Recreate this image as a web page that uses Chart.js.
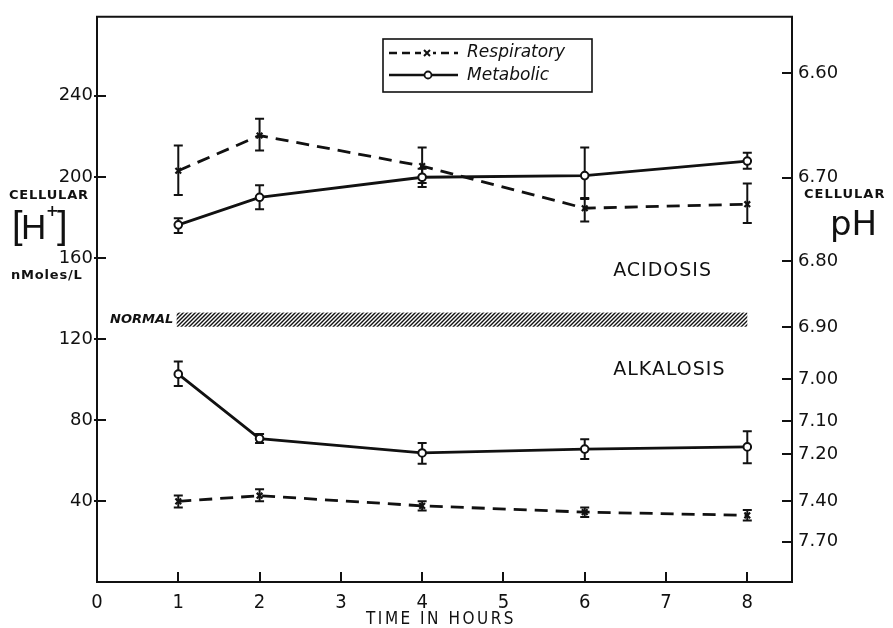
<!DOCTYPE html>
<html>
<head>
<meta charset="utf-8">
<script src="https://cdn.jsdelivr.net/npm/chart.js@4"></script>
<style>
  html, body { margin: 0; padding: 0; background: #fff; }
  #wrap { width: 893px; height: 628px; }
</style>
</head>
<body>
<div id="wrap"><canvas id="chart" width="893" height="628"></canvas></div>
<script>
// time points and axis ticks
const hours = [1, 2, 4, 6, 8];
const xTicks = [0, 1, 2, 3, 4, 5, 6, 7, 8];
const hTicks = [40, 80, 120, 160, 200, 240];
const phTicks = [6.60, 6.70, 6.80, 6.90, 7.00, 7.10, 7.20, 7.40, 7.70];

// cellular [H+] in nMoles/L, with error bar ends
const respAcid   = [203, 220.4, 205.3, 184.5, 186.5];
const respAcidLo = [191, 213, 197, 178, 177.2];
const respAcidHi = [215.5, 228.7, 214.5, 189, 196.7];

const metAcid   = [176.3, 189.9, 199.8, 200.6, 207.8];
const metAcidLo = [172.3, 184, 195, 189.5, 204];
const metAcidHi = [179.6, 195.8, 204, 214.5, 211.9];

const metAlk   = [102.6, 70.8, 63.7, 65.6, 66.7];
const metAlkLo = [96.7, 68.6, 58.4, 60.7, 58.6];
const metAlkHi = [108.8, 73, 68.6, 70.5, 74.4];

const respAlk   = [39.8, 42.6, 37.6, 34.5, 32.9];
const respAlkLo = [36.8, 39.8, 35.3, 32.1, 30.3];
const respAlkHi = [42.7, 45.8, 39.8, 36.8, 35.5];

// normal band
const normalH = [126, 133];
const normalHours = [0.98, 8];

const ink = '#111';
const tickFont = { family: 'DejaVu Sans', size: 18 };

function pts(ys) {
    return hours.map((h, i) => ({ x: h, y: ys[i] }));
}

function respSet(label, ys, lo, hi) {
    return {
        label: label, data: pts(ys), errLo: lo, errHi: hi,
        borderColor: ink, borderWidth: 2.8, borderDash: [13, 8],
        pointStyle: 'crossRot', pointRadius: 4, pointBorderWidth: 2.2,
        pointBorderColor: ink, pointBackgroundColor: ink, tension: 0
    };
}

function metSet(label, ys, lo, hi) {
    return {
        label: label, data: pts(ys), errLo: lo, errHi: hi,
        borderColor: ink, borderWidth: 2.8,
        pointStyle: 'circle', pointRadius: 3.8, pointBorderWidth: 2,
        pointBorderColor: ink, pointBackgroundColor: '#fff', tension: 0
    };
}

function makeHatch(ctx) {
    const c = document.createElement('canvas');
    c.width = 4; c.height = 4;
    const g = c.getContext('2d');
    g.strokeStyle = ink;
    g.lineWidth = 1.4;
    g.beginPath();
    g.moveTo(-1, 5); g.lineTo(5, -1);
    g.moveTo(-1, 1); g.lineTo(1, -1);
    g.moveTo(3, 5); g.lineTo(5, 3);
    g.stroke();
    return ctx.createPattern(c, 'repeat');
}

// hatched normal band + error bars, under the lines
const underlay = {
    id: 'underlay',
    beforeDatasetsDraw(chart) {
        const { ctx, scales: { x, y } } = chart;
        ctx.save();
        const x0 = x.getPixelForValue(normalHours[0]);
        const x1 = x.getPixelForValue(normalHours[1]);
        const y0 = y.getPixelForValue(normalH[1]);
        const y1 = y.getPixelForValue(normalH[0]);
        ctx.fillStyle = makeHatch(ctx);
        ctx.fillRect(x0, y0, x1 - x0, y1 - y0);

        ctx.strokeStyle = ink;
        ctx.lineWidth = 2;
        chart.data.datasets.forEach(ds => {
            hours.forEach((h, i) => {
                const px = x.getPixelForValue(h);
                const pLo = y.getPixelForValue(ds.errLo[i]);
                const pHi = y.getPixelForValue(ds.errHi[i]);
                ctx.beginPath();
                ctx.moveTo(px, pLo); ctx.lineTo(px, pHi);
                ctx.moveTo(px - 4.5, pLo); ctx.lineTo(px + 4.5, pLo);
                ctx.moveTo(px - 4.5, pHi); ctx.lineTo(px + 4.5, pHi);
                ctx.stroke();
            });
        });
        ctx.restore();
    }
};

// frame, inward ticks, legend and labels
const overlay = {
    id: 'overlay',
    afterDraw(chart) {
        const { ctx, chartArea: a, scales: { x, y, y2 } } = chart;
        ctx.save();
        ctx.strokeStyle = ink;
        ctx.lineWidth = 2;
        ctx.beginPath();
        ctx.moveTo(a.left - 1, a.top); ctx.lineTo(a.right + 1, a.top);
        ctx.stroke();

        ctx.beginPath();
        y.ticks.forEach(t => {
            const p = Math.round(y.getPixelForValue(t.value));
            ctx.moveTo(a.left - 3, p); ctx.lineTo(a.left + 9, p);
        });
        y2.ticks.forEach(t => {
            const p = Math.round(y2.getPixelForValue(t.value));
            ctx.moveTo(a.right - 10, p); ctx.lineTo(a.right, p);
        });
        x.ticks.forEach(t => {
            if (t.value === 0) return;
            const p = Math.round(x.getPixelForValue(t.value));
            ctx.moveTo(p, a.bottom); ctx.lineTo(p, a.bottom - 10);
        });
        ctx.stroke();

        // legend
        ctx.lineWidth = 1.6;
        ctx.strokeRect(383, 39, 209, 53);
        ctx.lineWidth = 2.4;
        ctx.setLineDash([8, 5]);
        ctx.beginPath(); ctx.moveTo(389, 53); ctx.lineTo(458, 53); ctx.stroke();
        ctx.setLineDash([]);
        ctx.beginPath(); ctx.moveTo(389, 75); ctx.lineTo(458, 75); ctx.stroke();
        ctx.fillStyle = '#fff';
        ctx.fillRect(421, 48, 12, 10);
        ctx.lineWidth = 2;
        ctx.beginPath();
        ctx.moveTo(424, 50); ctx.lineTo(430, 56);
        ctx.moveTo(430, 50); ctx.lineTo(424, 56);
        ctx.stroke();
        ctx.beginPath(); ctx.arc(428, 75, 3.5, 0, Math.PI * 2);
        ctx.fill(); ctx.lineWidth = 1.8; ctx.stroke();

        ctx.fillStyle = ink;
        ctx.textBaseline = 'middle';
        ctx.textAlign = 'left';
        ctx.font = 'oblique 17px "DejaVu Sans"';
        ctx.fillText('Respiratory', 467, 53);
        ctx.fillText('Metabolic', 467, 76);

        // region labels
        ctx.font = '19px "DejaVu Sans"';
        ctx.letterSpacing = '1px';
        ctx.fillText('ACIDOSIS', x.getPixelForValue(6.35), y.getPixelForValue(153.6));
        ctx.fillText('ALKALOSIS', x.getPixelForValue(6.35), y.getPixelForValue(104.5));
        ctx.letterSpacing = '0px';
        ctx.font = 'bold oblique 13px "DejaVu Sans"';
        ctx.fillText('NORMAL', 110, y.getPixelForValue(129.5));

        // left axis title
        ctx.font = 'bold 13px "DejaVu Sans"';
        ctx.letterSpacing = '0.8px';
        ctx.fillText('CELLULAR', 9, 196);
        ctx.fillText('nMoles/L', 11, 276);
        ctx.letterSpacing = '0px';
        ctx.font = '38px "Liberation Sans"';
        ctx.fillText('[', 12, 228);
        ctx.fillText(']', 57, 228);
        ctx.font = '35px "Liberation Sans"';
        ctx.fillText('H', 21, 229);
        ctx.font = 'bold 15px "DejaVu Sans"';
        ctx.fillText('+', 46, 212);

        // right axis title
        ctx.font = 'bold 13px "DejaVu Sans"';
        ctx.letterSpacing = '1px';
        ctx.fillText('CELLULAR', 804, 195);
        ctx.letterSpacing = '0px';
        ctx.font = '34px "DejaVu Sans"';
        ctx.fillText('pH', 830, 226);

        // x axis title
        ctx.textAlign = 'center';
        ctx.font = '17px "DejaVu Sans Condensed"';
        ctx.letterSpacing = '2.5px';
        ctx.fillText('TIME IN HOURS', 441, 620);
        ctx.restore();
    }
};

new Chart(document.getElementById('chart'), {
    type: 'line',
    data: {
        datasets: [
            respSet('Respiratory acidosis', respAcid, respAcidLo, respAcidHi),
            metSet('Metabolic acidosis', metAcid, metAcidLo, metAcidHi),
            metSet('Metabolic alkalosis', metAlk, metAlkLo, metAlkHi),
            respSet('Respiratory alkalosis', respAlk, respAlkLo, respAlkHi)
        ]
    },
    options: {
        responsive: false,
        animation: false,
        layout: { padding: { top: 13, left: 0, right: 0, bottom: 0 } },
        plugins: { legend: { display: false }, tooltip: { enabled: false } },
        scales: {
            x: {
                type: 'linear', min: 0, max: 8.55,
                afterBuildTicks: s => { s.ticks = xTicks.map(v => ({ value: v })); },
                afterFit: s => { s.height = 46; },
                grid: { display: false, drawTicks: false },
                border: { color: ink, width: 2 },
                ticks: { color: ink, padding: 9, font: { family: 'DejaVu Sans Condensed', size: 20 }, maxRotation: 0 }
            },
            y: {
                type: 'linear', position: 'left', min: 0, max: 279,
                afterBuildTicks: s => { s.ticks = hTicks.map(v => ({ value: v })); },
                afterFit: s => { s.width = 97; },
                grid: { display: false, drawTicks: false },
                border: { color: ink, width: 2 },
                ticks: { color: ink, padding: 4, font: tickFont }
            },
            y2: {
                type: 'linear', position: 'right', min: 0, max: 279,
                afterBuildTicks: s => { s.ticks = phTicks.map(p => ({ value: Math.pow(10, 9 - p) })); },
                afterFit: s => { s.width = 101; },
                grid: { display: false, drawTicks: false },
                border: { color: ink, width: 2 },
                ticks: { color: ink, padding: 6, font: tickFont, callback: (v, i) => phTicks[i].toFixed(2) }
            }
        }
    },
    plugins: [underlay, overlay]
});
</script>
</body>
</html>
